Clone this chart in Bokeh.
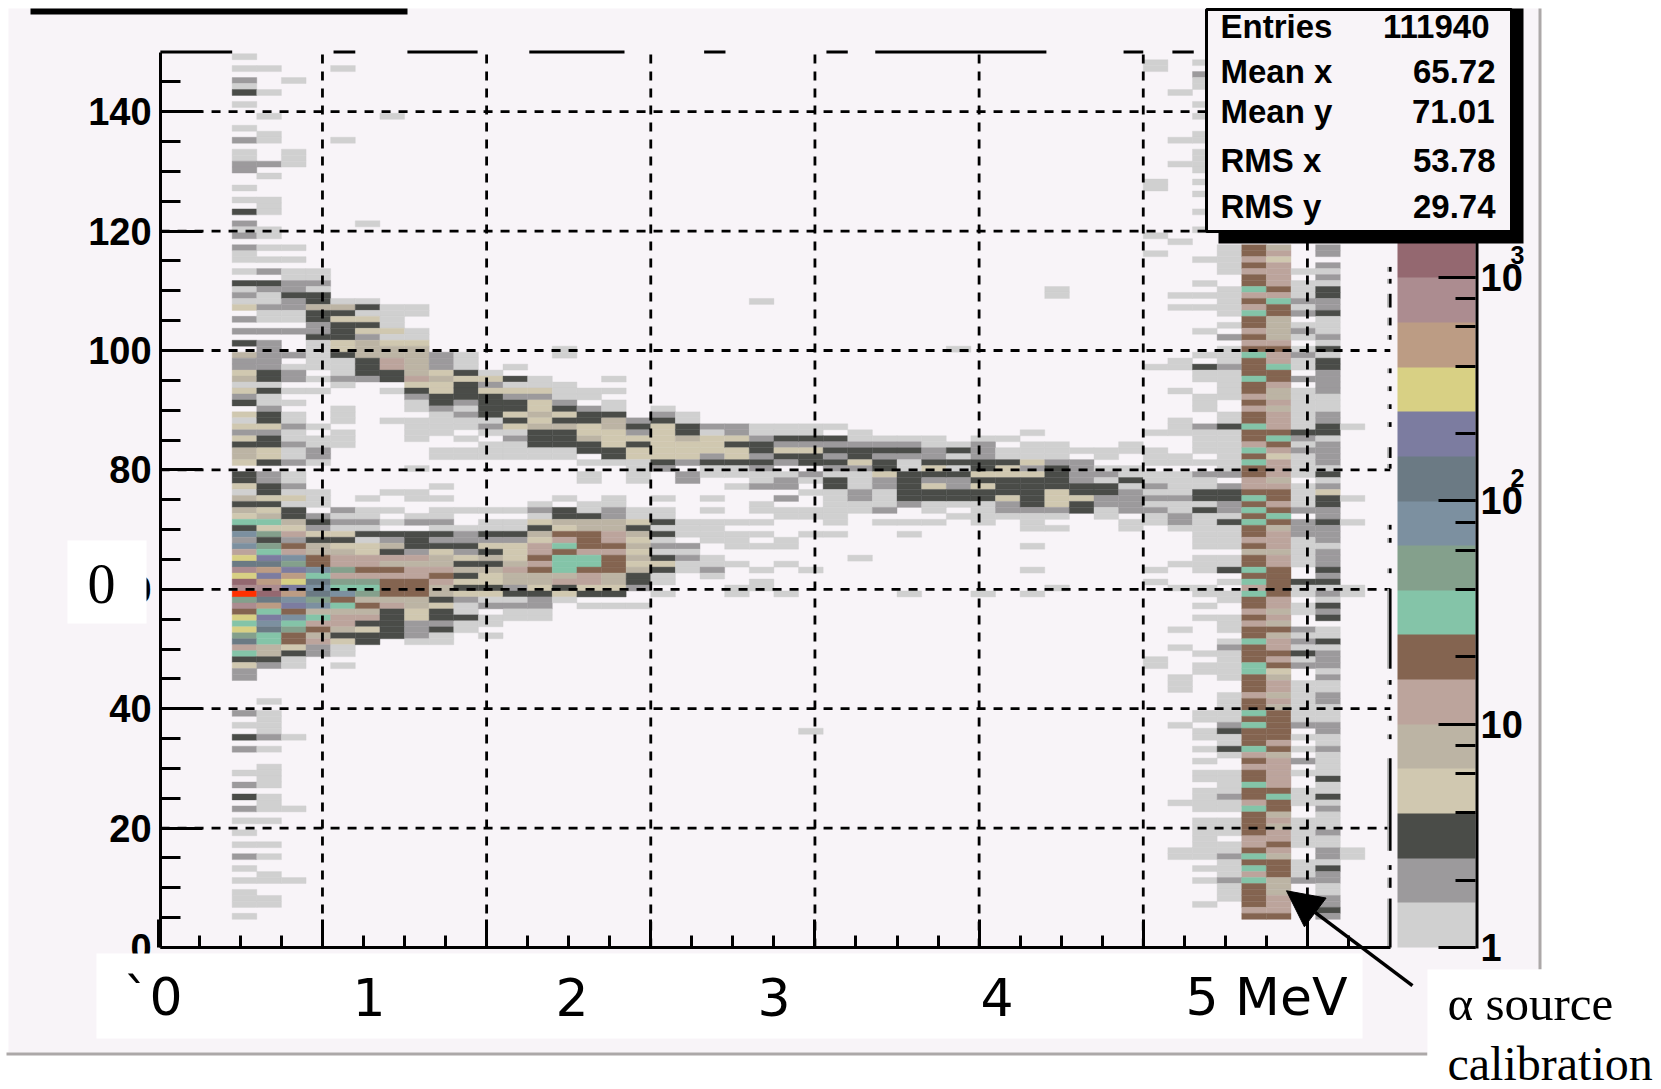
from bokeh.plotting import figure
from bokeh.embed import file_html
from bokeh.resources import INLINE
from bokeh.models import (ColumnDataSource, LogColorMapper, ColorBar, LogTicker, BoxAnnotation, Label,
                          LinearAxis, FixedTicker, Arrow, NormalHead, Range1d)
from bokeh.transform import transform

# ------------------------------------------------------------------ data
# palette levels, lowest first (a..q)
LEVEL_CODES = "abcdefghijklmnopq"
LEVEL_COLORS = ["#d0d0d0", "#9c9a9c", "#4a4c48", "#d0c8b0", "#bcb4a4", "#bca49c", "#846450", "#84c4a8",
                "#84a08c", "#7c90a0", "#6b7a84", "#7c7ca0", "#d8d084", "#bc9c84", "#ac8c90", "#946870", "#ff3000"]
LEVEL_DECADES = 0.1998

# each column: "top_row:codes" read downward from the top row; '.' is an empty bin
COL_03 = "149:a.a.bac.a 137:a.b.aabb..a.a.c.bab.baa.a.cabad.b.b.c. 99:ebbdeadbc.dadbdceed. 79:ccdaecedhcjbjfmkompo 59:qiogmhmikfhcdbb 39:b.a.c.b...a.b.c.b.a.a.a.b.a.a.aaa.a"
COL_04 = "147:a...a...a..aa...b.a...aaa..aa.a.a.b.cbaabaa.b.bb 99:bbbccacaabccdbccddc. 79:bbccdcdehdicihlknlno 59:pknhljkhheecb 41:a.aaaab.a..aaaa.aaa.a...a.a..aa..aa"
COL_05 = "145:a 133:aaa 117:a.a.aabbcbbaa.b 99:b.abb.a.a.aabaabaab. 79:aabadaccedfbgfjilnml 59:njlgjhiggdcaa 35:a 23:a 11:a"
COL_06 = "113:aabacceccbbcaa 99:aaa.a.a.....a.aabba. 79:...aaa.bcbdceeggjhkj 59:kijehfgefbb"
COL_07 = "147:a 135:a 108:aecdcccdd 99:caaaba...aaa.aaa.... 79:......babadcdeffifih 59:jgheffecdaa.a"
COL_08 = "121:a 108:acadcdbee 99:ecccb 75:a.aabacaddffgfih 59:iegefcdcc"
COL_09 = "139:a 107:aaaadade 99:effcc.a 88:a 76:a..a.a.cbecfegfgggefccccc"
COL_10 = "107:aa 103:aade 99:eeeefdcbaa.aaaa 80:a 76:aa 72:ab.cccbfeffgggeeddbbba"
COL_11 = "99:bbbdeddccbaaaa..aa 77:a.a.aabacbcdeefgfeecdccbcaa"
COL_12 = "99:aaacdcccbabaa.a.aa 73:a 70:abbcbdcecdcdbaacaa"
COL_13 = "96:adbdccccaba.aaa 73:a 71:aacbdcecedd 60:cdab.aa.a"
COL_14 = "97:a.cadbccdcdabaaa 73:a 71:aacbdddefeebcabaa"
COL_15 = "95:aadbddedecccaa 74:abadcedffgfgeedcbbaa"
COL_16 = "100:aa 94:aaabcdcecccaa 75:a.ccedgfhghhhefcda"
COL_17 = "93:aa.bccddecc.a.aa...aaceegggfhhgffdc.a"
COL_18 = "95:a.a.aaceedddcca 75:aabbeeffgfgggeedc.a"
COL_19 = "88:bcbdcddaaaa 73:aadcedededeccb..a"
COL_20 = "90:abcddddddcb 75:a.aacacabacdcaa.a"
COL_21 = "89:aaccedddb.bb 71:aaa.babaa"
COL_22 = "87:badddbcaa 75:a 73:a 71:aaaa 65:aaba"
COL_23 = "87:bbdcddcaa.a 71:a 69:aaa 64:a 60:aa"
COL_24 = "108:a 87:aabccbcbaab 74:aa.a.a.a 63:a 61:aa"
COL_25 = "87:aacbdcb.abb.b.aa 68:aa 64:a 59:a"
COL_26 = "87:aacbdcc.ba.a..aa 69:a 63:a 36:a"
COL_27 = "87:a.cbcbcbaccaaaaaa.a"
COL_28 = "86:aabccdbaaabbaa 65:a"
COL_29 = "85:abcbccdbbaaab.a"
COL_30 = "85:abcbaacccccb..a.a 59:a"
COL_31 = "85:aabbcdcbdccaa.a"
COL_32 = "100:a 84:acacacbbcca.a"
COL_33 = "85:abbbccdcdccaaaa 59:a"
COL_34 = "85:a.aacddcccdbba"
COL_35 = "86:a.aaadbdcccccbaaa..a 63:a 59:a"
COL_36 = "110:aa 84:aaabccccdddba.a 60:a"
COL_37 = "83:a.bbbbccdcc"
COL_38 = "83:aa.abaccbbaa"
COL_39 = "84:aa..aacabbbb.aa"
COL_40 = "148:aa 128:aa 119:a 116:a 97:a 86:a 83:aaa 79:aabababaa 63:a 61:a 48:aa"
COL_41 = "143:a 135:a 131:a 118:a 109:a 107:a 98:aa 93:a 88:aaa 82:aa 79:aaaabaabba 64:a 60:a 53:a 50:a 45:aaa 37:a 24:a 16:aa"
COL_42 = "148:a.baa..a.a..aa.aaaa.a.a..a..a 119:....a...a.a.a...a... 99:a.caa..aaa..baaaa.a. 79:baaccacaaaaaa.aaa..a 59:a.a.a.....a.aa...... 39:aa.aa.a.a.aa.aaaa.aa 19:aaaaa.a.a...a"
COL_43 = "117:aaaaa..aaaaa.a.b.a 99:aabaaaaa..aacaaaaaaa 79:b.bccbbacaaaa.aac.a. 59:aa..aaa.abaaaaa..aaa 39:aabcaaca..aaaabaa.aa 19:a.aabaaabaaa"
COL_44 = "117:ggfgfgghfgfhggfgfg 99:hggghggfgfgghggfhghg 79:gffghghghggfgegghghf 59:hggfgfgghggghhgggfgg 39:hghggghfgfgghggfhggg 19:gffghghfhggggfg"
COL_45 = "117:efdffffgfhggeeeefg 99:ffhggfeefefffghgfdff 79:fefggfghgefffeffgggg 59:gffefegeffgfgdeffefe 39:gggggfgefffffghggefe 19:ffgfegggeeefffg"
COL_46 = "113:a.aaabab.aba.a 99:baa.b.aaaaaaacbabaaa 79:a.aaaab.bbbaaaaa..ca 59:a.aa..babacab..aaaaa 39:aab.a.a.b.a..aaa..aa 19:aaa..aaab"
COL_47 = "117:bb.babaccbbcaaabac 99:accbbbbaaabbccabbbba 79:cabdccbbcbbbabbbcbca 59:bacbc.aacabbbabaabba 39:aabbaabaaaacaacabaaa 19:baabbacbbaabbcb"
COL_48 = "87:a 75:a 71:a 60:aa 16:aa"

COLUMNS = {3: COL_03, 4: COL_04, 5: COL_05, 6: COL_06, 7: COL_07, 8: COL_08, 9: COL_09, 10: COL_10, 11: COL_11,
           12: COL_12, 13: COL_13, 14: COL_14, 15: COL_15, 16: COL_16, 17: COL_17, 18: COL_18, 19: COL_19,
           20: COL_20, 21: COL_21, 22: COL_22, 23: COL_23, 24: COL_24, 25: COL_25, 26: COL_26, 27: COL_27,
           28: COL_28, 29: COL_29, 30: COL_30, 31: COL_31, 32: COL_32, 33: COL_33, 34: COL_34, 35: COL_35,
           36: COL_36, 37: COL_37, 38: COL_38, 39: COL_39, 40: COL_40, 41: COL_41, 42: COL_42, 43: COL_43,
           44: COL_44, 45: COL_45, 46: COL_46, 47: COL_47, 48: COL_48}

Y_TICKS = [0, 20, 40, 60, 80, 100, 120, 140]
X_TICKS = [0, 40, 80, 120, 160, 200, 240, 280]
X_TEXTS = [("`0", 123), ("1", 352), ("2", 555), ("3", 757), ("4", 980), ("5 MeV", 1185)]
STATS = [("Entries", "111940", 38, 1489), ("Mean x", "65.72", 83, 1495), ("Mean y", "71.01", 123, 1494),
         ("RMS x", "53.78", 172, 1495), ("RMS y", "29.74", 218, 1495)]
# pieces of the broken top and right frame lines that survive in the picture
TOP_PIECES = [(0.5, 18), (42.7, 48), (60.7, 77.8), (90.4, 113.6), (133, 138.2), (162.8, 168), (174.7, 216.4),
              (235.2, 240), (247.1, 252.3)]
RIGHT_PIECES = [(114, 113.2), (112, 111.2), (109.5, 107.2), (105.5, 104.2), (102.6, 101.8), (97, 96.2), (94, 93.2),
                (91, 90.2), (88, 87.2), (83.8, 82), (81, 80.2), (70.8, 70), (68.6, 67.8), (63.5, 62.7), (60.1, 46.7),
                (44.8, 44), (42.4, 41.6), (38.8, 38), (35.7, 34.9), (31.7, 16.2), (13.8, 13), (11.7, 10), (8.2, 0)]

# ------------------------------------------------------------------ layout
W, H = 1661, 1089
PANEL = "#f8f4f8"
X0_PX, X_SCALE = 157.8, 4.104      # page pixel of x=0 and pixels per x unit
Y0_PX, Y_SCALE = 947.0, 5.97       # page pixel of y=0 and pixels per y unit
BAR_PX_PER_DECADE = 223.5

lefts, rights, bottoms, tops, counts = [], [], [], [], []
for k, spec in COLUMNS.items():
    for token in spec.split():
        top, codes = token.split(":")
        for i, c in enumerate(codes):
            if c == ".":
                continue
            r = int(top) - i
            lefts.append(6 * k)
            rights.append(6 * k + 6)
            bottoms.append(r - 0.28)
            tops.append(r + 0.72)
            counts.append(10 ** ((LEVEL_CODES.index(c) + 0.5) * LEVEL_DECADES))
src = ColumnDataSource(dict(left=lefts, right=rights, bottom=bottoms, top=tops, count=counts))

decades = len(LEVEL_COLORS) * LEVEL_DECADES
mapper = LogColorMapper(palette=LEVEL_COLORS, low=1, high=10 ** decades)

p = figure(width=W, height=H, output_backend="svg", toolbar_location=None,
           x_axis_location=None, y_axis_location=None,
           x_range=Range1d(-X0_PX / X_SCALE, (W - X0_PX) / X_SCALE),
           y_range=Range1d((Y0_PX - H) / Y_SCALE, Y0_PX / Y_SCALE),
           min_border_left=0, min_border_right=0, min_border_top=0, min_border_bottom=0)
p.outline_line_color = None
p.background_fill_color = "white"
p.border_fill_color = "white"
p.grid.visible = False

FONT = "Liberation Sans"
SERIF = "Liberation Serif"
VERD = "DejaVu Sans"

def box(left, right, top, bottom, fill, level="annotation", line=None, lw=0):
    b = BoxAnnotation(left=left, right=right, top=top, bottom=bottom,
                      left_units="canvas", right_units="canvas", top_units="canvas", bottom_units="canvas",
                      fill_color=fill, fill_alpha=1, line_color=line, line_alpha=1, line_width=lw, level=level,
                      editable=False)
    p.add_layout(b)
    return b

def text(t, x, y, size, font=FONT, align="left", level="annotation", style="normal"):
    # canvas-unit labels sit about 0.35 em below the requested baseline
    p.add_layout(Label(x=x, y=y - 0.35 * size, x_units="canvas", y_units="canvas", text=t, text_font=font,
                       text_font_size=f"{size}px", text_font_style=style, text_align=align,
                       text_baseline="alphabetic", text_color="black", level=level))

# panel and its grey edge
box(8, 1539, 8, 1052, PANEL, level="image")
box(1538, 1541, 8, 969, "#aca8a8", level="image")
box(6, 1427, 1052, 1055, "#aca8a8", level="image")

color = transform("count", mapper)
p.quad(left="left", right="right", bottom="bottom", top="top", source=src,
       fill_color=color, line_color=color, line_width=0.4)

# dashed grid, drawn over the cells
p.segment(x0=X_TICKS[1:], x1=X_TICKS[1:], y0=0, y1=150, color="black", line_width=2.8, line_dash="9 8")
p.segment(x0=0.55, x1=300.2, y0=Y_TICKS[1:], y1=Y_TICKS[1:], color="black", line_width=2.8, line_dash="9 8")

# axes; the x axis keeps only its ticks, its numbers are the pasted texts below
x_minor = [v for v in range(10, 300, 10) if v % 40]
y_minor = [v for v in range(5, 150, 5) if v % 20]
xaxis = LinearAxis(ticker=FixedTicker(ticks=X_TICKS, minor_ticks=x_minor), fixed_location=0, bounds=(0.55, 300.2),
                   major_label_overrides={t: "" for t in X_TICKS})
yaxis = LinearAxis(ticker=FixedTicker(ticks=Y_TICKS, minor_ticks=y_minor), fixed_location=0.55, bounds=(0, 150),
                   major_label_text_font=FONT, major_label_text_font_size="38px", major_label_standoff=9,
                   major_label_text_color="black", major_label_text_font_style="bold")
for ax in (xaxis, yaxis):
    ax.axis_line_width = 3
    ax.axis_line_color = "black"
    ax.major_tick_line_color = "black"
    ax.minor_tick_line_color = "black"
    ax.major_tick_line_width = 3
    ax.minor_tick_line_width = 3
    ax.major_tick_out = 0
    ax.minor_tick_out = 0
xaxis.major_tick_in = 28
xaxis.minor_tick_in = 12
yaxis.major_tick_in = 42
yaxis.minor_tick_in = 20
p.add_layout(xaxis, "below")
p.add_layout(yaxis, "left")

p.segment(x0=[a for a, _ in TOP_PIECES], x1=[b for _, b in TOP_PIECES], y0=150, y1=150, color="black", line_width=3)
p.segment(x0=299.7, x1=299.7, y0=[a for a, _ in RIGHT_PIECES], y1=[b for _, b in RIGHT_PIECES],
          color="#a8a8a8", line_width=2)
p.segment(x0=300.2, x1=300.2, y0=[a for a, _ in RIGHT_PIECES], y1=[b for _, b in RIGHT_PIECES],
          color="black", line_width=2.5)

# colour scale
cb = ColorBar(color_mapper=mapper, ticker=LogTicker(), width=78, height=round(decades * BAR_PX_PER_DECADE),
              padding=0, margin=0, location=(1397, H - 947), bar_line_color=None, major_tick_line_color="black",
              major_tick_in=37, minor_tick_in=20, minor_tick_out=0, major_tick_out=0,
              minor_tick_line_color="black", major_tick_line_width=3, minor_tick_line_width=3,
              major_label_text_font=FONT, major_label_text_font_size="38px", major_label_text_font_style="bold",
              label_standoff=5, major_label_text_color="black",
              major_label_overrides={1: "1", 10: "10", 100: "10", 1000: "10"}, background_fill_color=None)
p.add_layout(cb)
box(1475, 1478, 240, 948, "black")
text("2", 1510, 486, 25, style="bold")
text("3", 1510, 263, 25, style="bold")

# patches pasted over the old labels
box(67, 146, 540, 623, "white")
text("0", 87, 603, 56, SERIF)
box(96, 1362, 953, 1038, "white")
for t, x in X_TEXTS:
    text(t, x, 1015, 52, VERD)
box(1427, 1661, 969, 1089, "white")
text("\u03b1 source", 1447, 1020, 49, SERIF)
text("calibration", 1447, 1080, 48, SERIF)

# top black rule
box(30, 407, 8, 14, "black")

# statistics box
box(1218, 1523, 8, 243, "black", level="overlay")
box(1206, 1511, 9, 231, PANEL, level="overlay", line="black", lw=3)
for name, val, base, right in STATS:
    text(name, 1220, base, 33, level="overlay", style="bold")
    text(val, right, base, 33, align="right", level="overlay", style="bold")

p.add_layout(Arrow(end=NormalHead(size=36, fill_color="black", line_color="black"),
                   x_start=305.6, y_start=-6.4, x_end=274.9, y_end=9.5,
                   line_width=3.5, line_color="black", level="overlay"))

open("out.html", "w").write(file_html(p, INLINE))
